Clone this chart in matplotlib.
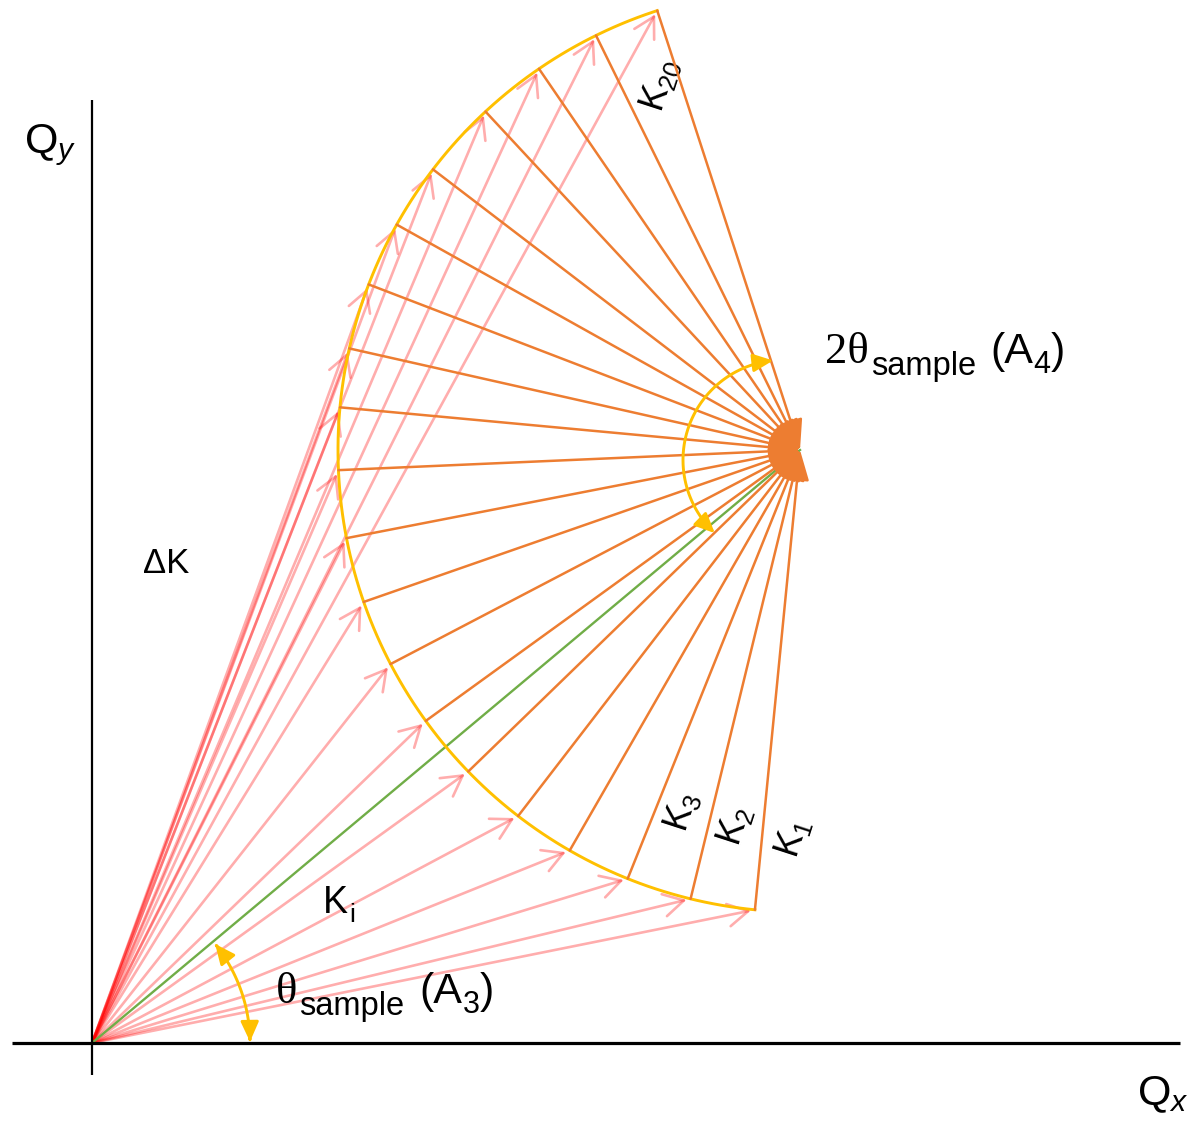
import numpy as np
import matplotlib
matplotlib.use('Agg')
import matplotlib.pyplot as plt
from matplotlib.patches import FancyArrowPatch
from matplotlib.path import Path
from matplotlib.transforms import IdentityTransform

plt.rcParams['font.family'] = ['Liberation Sans', 'DejaVu Sans']
plt.rcParams['mathtext.fontset'] = 'custom'
plt.rcParams['mathtext.rm'] = 'Liberation Sans'
plt.rcParams['mathtext.it'] = 'Liberation Sans:italic'
plt.rcParams['mathtext.default'] = 'rm'

# ---------------- data (reciprocal-space units) ----------------
ki = (708, 593)                 # incident wavevector tip
kf_radius = 462                 # |K_f|
kf_angles = [264.4, 256.3, 248.1, 240.1, 232.4, 224.1, 215.9, 207.6, 199.2, 191.0,
             182.5, 174.7, 167.3, 159.0, 150.8, 142.6, 132.9, 124.4, 116.2, 108.0]
kf_label_index = [1, 2, 3, 20]
kf_label_pos = [(701, 205), (643, 217), (590, 231), (568, 958)]
theta_radius = 158
theta_span = (0.5, 38.8)
tth_center = (691, 583)
tth_radius = 100
tth_span = (95.7, 227.0)

C_PINK = '#FF0000'
C_ORANGE = '#ED7D31'
C_GREEN = '#70AD47'
C_YELLOW = '#FFC000'

fig = plt.figure(figsize=(11.95, 11.22), dpi=100)
ax = fig.add_axes([0, 0, 1, 1])
ax.set_xlim(-92, 1103)
ax.set_ylim(-79, 1043)
ax.axis('off')

# axes lines
ax.plot([-80, 1088], [0, 0], color='black', lw=2.3, solid_capstyle='butt', zorder=5)
ax.plot([0, 0], [-32, 943], color='black', lw=1.6, solid_capstyle='butt', zorder=5)

ang = np.radians(kf_angles)
px = ki[0] + kf_radius * np.cos(ang)
py = ki[1] + kf_radius * np.sin(ang)

# Q vectors (pink)
for x, y in zip(px, py):
    a = FancyArrowPatch(posA=(0, 0), posB=(x, y),
                        arrowstyle='->,head_length=0.5,head_width=0.28',
                        mutation_scale=29, lw=1.9, color=C_PINK, alpha=0.32,
                        shrinkA=0, shrinkB=3, zorder=1)
    ax.add_patch(a)

# incident wavevector (green)
ax.plot([0, ki[0]], [0, ki[1]], color=C_GREEN, lw=1.7, zorder=2)

# yellow arc of final wavevectors
t = np.linspace(ang[0], ang[-1], 300)
ax.plot(ki[0] + kf_radius * np.cos(t), ki[1] + kf_radius * np.sin(t),
        color=C_YELLOW, lw=2.1, zorder=3)

# K_f vectors (orange)
for x, y in zip(px, py):
    a = FancyArrowPatch(posA=(x, y), posB=ki,
                        arrowstyle='-|>,head_length=0.75,head_width=0.3',
                        mutation_scale=25, lw=1.8, color=C_ORANGE,
                        shrinkA=0, shrinkB=0, zorder=4)
    ax.add_patch(a)

# angle arcs
def arc_arrow(center, r, span):
    tt = np.radians(np.linspace(span[0], span[1], 60))
    verts = np.column_stack([center[0] + r * np.cos(tt), center[1] + r * np.sin(tt)])
    p = Path(verts)
    a = FancyArrowPatch(path=p, arrowstyle='<|-|>,head_length=0.55,head_width=0.25',
                        mutation_scale=22, lw=2.1, color=C_YELLOW, zorder=6)
    ax.add_patch(a)

arc_arrow((0, 0), theta_radius, theta_span)
arc_arrow(tth_center, tth_radius, tth_span)

# labels
ax.text(-42, 898, r'$\mathrm{Q}_{\mathit{y}}$', fontsize=31, ha='center', va='center')
ax.text(1071, -52, r'$\mathrm{Q}_{\mathit{x}}$', fontsize=31, ha='center', va='center')
ax.text(51, 470, 'ΔK', fontsize=25, ha='left', va='baseline')

for idx, (lx, ly) in zip(kf_label_index, kf_label_pos):
    ax.text(lx, ly, r'K$_{%d}$' % idx, fontsize=26, rotation=72,
            rotation_mode='anchor', ha='center', va='center')

fig.canvas.draw()
renderer = fig.canvas.get_renderer()

def seq_text(x, y, pieces):
    cx, cy = ax.transData.transform((x, y))
    for s, size, fam, dy, gap in pieces:
        cx += gap
        tt = ax.text(cx, cy - dy, s, fontsize=size, family=fam,
                     transform=IdentityTransform(), ha='left', va='baseline')
        bb = tt.get_window_extent(renderer)
        cx = bb.x1

seq_text(231, 130, [('K', 27, 'Liberation Sans', 0, 0),
                    ('i', 19, 'Liberation Sans', 9, 1)])
seq_text(733, 680, [('2θ', 32, 'Liberation Serif', 0, 0),
                    ('sample', 23.5, 'Liberation Sans', 12, 2),
                    ('(A', 31, 'Liberation Sans', 0, 15),
                    ('4', 22, 'Liberation Sans', 10, 0),
                    (')', 31, 'Liberation Sans', 0, 0)])
seq_text(184, 40, [('θ', 32, 'Liberation Serif', 0, 0),
                   ('sample', 23.5, 'Liberation Sans', 12, 2),
                   ('(A', 31, 'Liberation Sans', 0, 15),
                   ('3', 22, 'Liberation Sans', 10, 0),
                   (')', 31, 'Liberation Sans', 0, 0)])

fig.savefig('out.png', dpi=100)
